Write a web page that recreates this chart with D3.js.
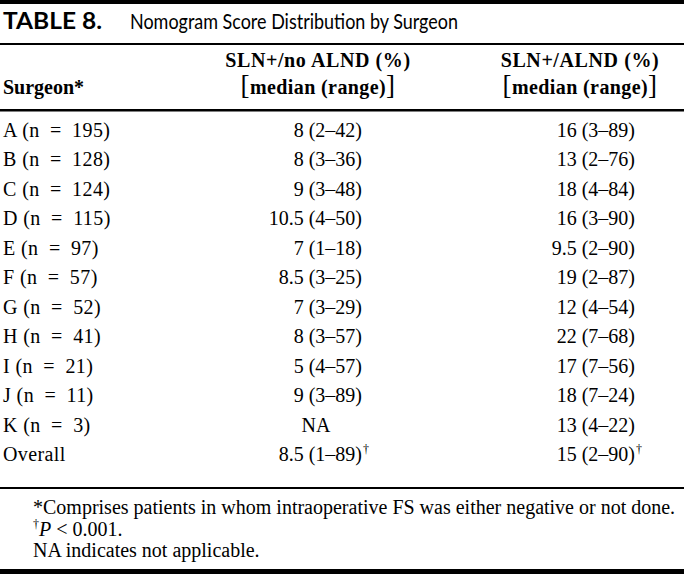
<!DOCTYPE html>
<html><head><meta charset="utf-8">
<script src="https://cdn.jsdelivr.net/npm/d3@7"></script>
<style>body{margin:0;background:#fff}svg{display:block}text{white-space:pre}</style>
</head><body><script>
const titleLabel = "TABLE 8.";
const titleText = "Nomogram Score Distribution by Surgeon";
const surgeons = ["A","B","C","D","E","F","G","H","I","J","K","Overall"];
const patients = [195,128,124,115,97,57,52,41,21,11,3,null];
const noAlndMedian = [8,8,9,10.5,7,8.5,7,8,5,9,null,8.5];
const noAlndMin = [2,3,3,4,1,3,3,3,4,3,null,1];
const noAlndMax = [42,36,48,50,18,25,29,57,57,89,null,89];
const alndMedian = [16,13,18,16,9.5,19,12,22,17,18,13,15];
const alndMin = [3,2,4,3,2,2,4,7,7,7,4,2];
const alndMax = [89,76,84,90,90,87,54,68,56,24,22,90];
const columnHeaders = ["Surgeon*","SLN+/no ALND (%)","SLN+/ALND (%)"];
const subHeader = "median (range)";
const footnotes = ["*Comprises patients in whom intraoperative FS was either negative or not done.","P < 0.001.","NA indicates not applicable."];

const W = 684, H = 574;
const svg = d3.select("body").append("svg").attr("width", W).attr("height", H);
const serif = "'Liberation Serif','Times New Roman',serif";
const sans = "Lato,'Open Sans',sans-serif";

// rules
const rules = [{y:0,h:4},{y:43,h:2},{y:109,h:2.5},{y:487,h:2},{y:569,h:5}];
svg.selectAll("rect.rule").data(rules).join("rect").attr("class","rule")
  .attr("x",0).attr("width",W).attr("y",d=>d.y).attr("height",d=>d.h).attr("fill","#000");

// title
svg.append("text").attr("x",3).attr("y",28.5).attr("font-family",sans).attr("font-weight",700)
  .attr("font-size",22).attr("textLength",99).attr("lengthAdjust","spacingAndGlyphs").text(titleLabel);
svg.append("text").attr("x",130).attr("y",28.5).attr("font-family",sans).attr("font-weight",400)
  .attr("font-size",22).attr("textLength",328).attr("lengthAdjust","spacingAndGlyphs").text(titleText);

// columns
const col = d3.scaleOrdinal().domain(["surgeon","noAlnd","alnd"]).range([3, 362, 635]);
const headerCenter = d3.scaleOrdinal().domain(["noAlnd","alnd"]).range([318, 580]);

// headers
svg.append("text").attr("x",col("surgeon")).attr("y",94).attr("font-family",serif).attr("font-weight",700)
  .attr("font-size",20).text(columnHeaders[0]);
["noAlnd","alnd"].forEach((k,i)=>{
  svg.append("text").attr("x",headerCenter(k)).attr("y",67).attr("text-anchor","middle")
    .attr("font-family",serif).attr("font-weight",700).attr("font-size",20).attr("letter-spacing",0.6)
    .text(columnHeaders[i+1]);
  const t = svg.append("text").attr("x",headerCenter(k)).attr("y",94).attr("text-anchor","middle")
    .attr("font-family",serif).attr("font-weight",700).attr("font-size",20).attr("letter-spacing",0.4);
  t.append("tspan").attr("font-size",27).attr("font-weight",400).text("[");
  t.append("tspan").text(subHeader);
  t.append("tspan").attr("font-size",27).attr("font-weight",400).text("]");
});

// rows
const y = d3.scalePoint().domain(surgeons).range([137, 461]);
const fmt = v => String(v);
const rows = surgeons.map((s,i)=>({
  s, n: patients[i],
  a: noAlndMedian[i]==null ? null : `${fmt(noAlndMedian[i])} (${noAlndMin[i]}–${noAlndMax[i]})`,
  b: `${fmt(alndMedian[i])} (${alndMin[i]}–${alndMax[i]})`,
  overall: s==="Overall"
}));
const g = svg.append("g").attr("font-family",serif).attr("font-size",20);
rows.forEach(r=>{
  g.append("text").attr("x",col("surgeon")).attr("y",y(r.s)).attr("letter-spacing",0.4)
    .text(r.n==null ? r.s : `${r.s} (n\u2002=\u2002${r.n})`);
  if (r.a==null) {
    g.append("text").attr("x",316).attr("y",y(r.s)).attr("text-anchor","middle").text("NA");
  } else {
    g.append("text").attr("x",col("noAlnd")).attr("y",y(r.s)).attr("text-anchor","end").text(r.a);
    if (r.overall) svg.append("text").attr("x",col("noAlnd")+1).attr("y",y(r.s)-8).attr("font-family",serif).attr("font-size",12).text("†");
  }
  g.append("text").attr("x",col("alnd")).attr("y",y(r.s)).attr("text-anchor","end").text(r.b);
  if (r.overall) svg.append("text").attr("x",col("alnd")+1).attr("y",y(r.s)-8).attr("font-family",serif).attr("font-size",12).text("†");
});

// footnotes
const fy = d3.scalePoint().domain(footnotes).range([514, 557]);
const fg = svg.append("g").attr("font-family",serif).attr("font-size",20);
fg.append("text").attr("x",33).attr("y",fy(footnotes[0])).text(footnotes[0]);
const f2 = fg.append("text").attr("x",33).attr("y",fy(footnotes[1]));
f2.append("tspan").attr("font-size",12).attr("dy",-8).text("†");
f2.append("tspan").attr("dy",8).attr("font-style","italic").text("P");
f2.append("tspan").text(" < 0.001.");
fg.append("text").attr("x",33).attr("y",fy(footnotes[2])).text(footnotes[2]);
</script></body></html>
